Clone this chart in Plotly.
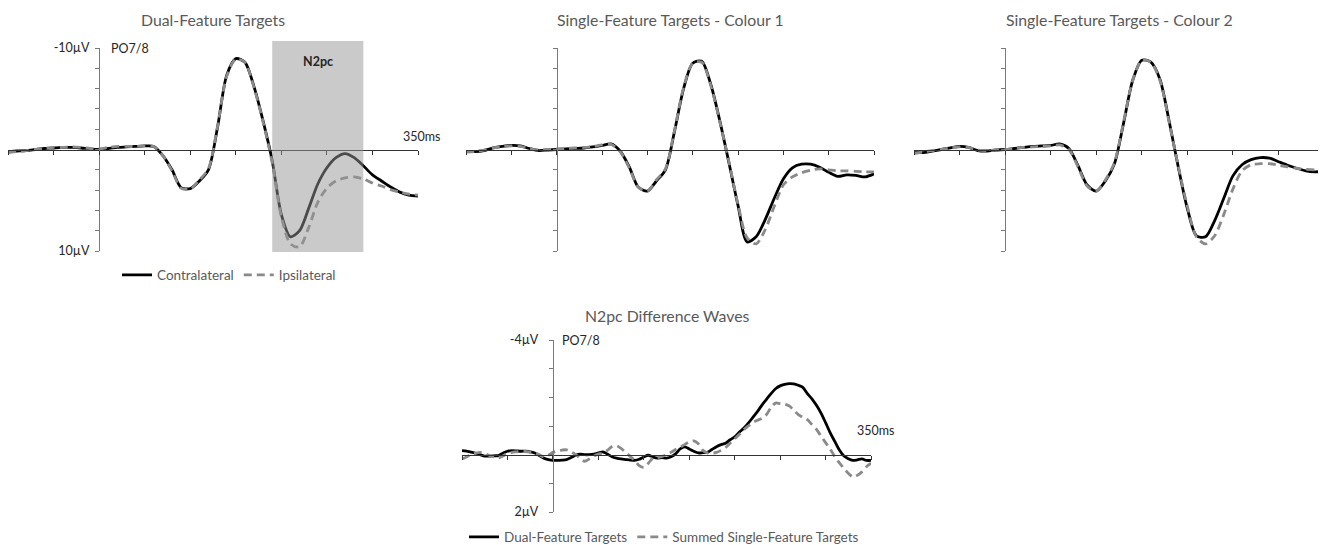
import plotly.graph_objects as go

# The page places the figure 8px from the top-left corner (default body margin),
# so the figure is sized to fill the rest of the 1326x545 window.
OFF = 8
W, H = 1326 - OFF, 545 - OFF

# ---------------- data ----------------
T10 = list(range(-100, 351, 10))   # ms, top panels
T5 = list(range(-100, 351, 5))     # ms, difference waves

dual_contra = [0.2, 0.15, 0.1, 0.0, -0.1, -0.15, -0.2, -0.2, -0.15, -0.05,
               0.0, -0.1, -0.2, -0.25, -0.3, -0.35, -0.3, 0.6, 2.0, 3.75,
               3.85, 3.1, 2.0, -2.2, -7.3, -8.95, -8.6, -6.2, -2.8, 1.1,
               6.4, 8.6, 8.0, 5.8, 3.4, 1.8, 0.8, 0.4, 0.8, 1.6,
               2.5, 3.1, 3.7, 4.2, 4.5, 4.6]
dual_ipsi = [0.3, 0.2, 0.1, 0.0, -0.1, -0.2, -0.2, -0.25, -0.2, -0.1,
             -0.05, -0.2, -0.3, -0.3, -0.3, -0.35, -0.3, 0.6, 2.1, 3.8,
             3.9, 3.0, 1.9, -2.3, -7.2, -8.9, -8.6, -6.1, -2.7, 1.3,
             6.6, 9.3, 9.6, 7.7, 5.2, 3.8, 3.1, 2.8, 2.7, 2.9,
             3.3, 3.6, 3.95, 4.2, 4.4, 4.5]

c1_contra = [0.2, 0.2, 0.1, -0.15, -0.3, -0.4, -0.35, -0.1, 0.1, 0.05,
             0.0, -0.05, -0.1, -0.15, -0.25, -0.4, -0.55, 0.15, 1.7, 3.7,
             4.1, 3.1, 2.0, -1.8, -6.0, -8.5, -8.7, -6.4, -2.8, 1.3,
             5.5, 9.1, 8.6, 6.9, 4.8, 2.9, 1.8, 1.45, 1.45, 1.75,
             2.25, 2.65, 2.5, 2.55, 2.7, 2.4]
c1_ipsi = [0.25, 0.2, 0.05, -0.15, -0.3, -0.35, -0.3, -0.1, 0.05, 0.0,
           -0.05, -0.1, -0.15, -0.2, -0.3, -0.45, -0.5, 0.2, 1.8, 3.7,
           4.1, 3.0, 1.9, -1.9, -6.1, -8.5, -8.6, -6.3, -2.7, 1.2,
           5.4, 8.7, 9.3, 7.9, 5.6, 3.5, 2.7, 2.3, 2.05, 1.9,
           2.0, 2.1, 2.1, 2.15, 2.2, 2.2]

c2_contra = [0.3, 0.3, 0.15, 0.0, -0.15, -0.3, -0.2, 0.1, 0.15, 0.05,
             0.0, -0.1, -0.2, -0.3, -0.35, -0.4, -0.55, -0.1, 1.6, 3.5,
             4.1, 3.1, 1.4, -2.6, -6.8, -8.8, -8.6, -6.9, -2.8, 1.7,
             5.8, 8.5, 8.6, 7.0, 4.8, 2.6, 1.5, 1.0, 0.8, 0.85,
             1.2, 1.55, 1.85, 2.1, 2.2, 2.15]
c2_ipsi = [0.4, 0.25, 0.1, 0.0, -0.15, -0.25, -0.2, 0.05, 0.1, 0.05,
           0.0, -0.1, -0.2, -0.25, -0.3, -0.35, -0.45, 0.0, 1.7, 3.6,
           4.1, 3.0, 1.3, -2.7, -6.8, -8.8, -8.6, -6.8, -2.7, 1.6,
           5.6, 8.6, 9.3, 8.5, 6.4, 3.9, 2.1, 1.5, 1.4, 1.4,
           1.55, 1.7, 1.85, 1.95, 2.0, 2.0]

diff_dual = [-0.14, -0.12, -0.09, -0.05, 0.0, 0.05, 0.05, 0.04, 0.03, -0.05,
             -0.12, -0.14, -0.13, -0.12, -0.12, -0.1, -0.06, 0.03, 0.12, 0.17,
             0.2, 0.2, 0.19, 0.17, 0.1, 0.02, -0.02, 0.0, 0.0, -0.02,
             -0.06, -0.1, -0.02, 0.07, 0.12, 0.15, 0.17, 0.19, 0.2, 0.16,
             0.08, 0.02, 0.08, 0.12, 0.1, 0.12, 0.07, -0.03, -0.2, -0.27,
             -0.2, -0.12, -0.06, -0.07, -0.08, -0.18, -0.28, -0.35, -0.4, -0.52,
             -0.62, -0.78, -0.92, -1.1, -1.3, -1.5, -1.73, -1.93, -2.13, -2.3,
             -2.4, -2.45, -2.48, -2.47, -2.42, -2.35, -2.13, -1.95, -1.72, -1.45,
             -1.12, -0.77, -0.47, -0.17, 0.04, 0.14, 0.2, 0.18, 0.15, 0.2,
             0.2]
diff_summed = [0.15, 0.08, 0.0, -0.05, -0.08, -0.04, 0.03, 0.08, 0.12, 0.05,
               -0.04, -0.08, -0.1, -0.12, -0.11, -0.09, -0.07, 0.0, 0.08, 0.02,
               -0.08, -0.13, -0.16, -0.17, -0.1, 0.0, 0.12, 0.23, 0.15, 0.05,
               -0.02, -0.06, -0.15, -0.28, -0.31, -0.22, -0.08, 0.06, 0.2, 0.38,
               0.44, 0.3, 0.12, 0.1, 0.06, 0.0, -0.08, -0.18, -0.27, -0.35,
               -0.45, -0.48, -0.38, -0.15, -0.06, -0.05, -0.08, -0.15, -0.25, -0.4,
               -0.55, -0.7, -0.87, -1.0, -1.12, -1.2, -1.27, -1.4, -1.65, -1.8,
               -1.78, -1.76, -1.7, -1.55, -1.4, -1.3, -1.22, -1.05, -0.88, -0.65,
               -0.42, -0.2, 0.06, 0.28, 0.47, 0.65, 0.78, 0.72, 0.6, 0.42,
               0.3]

TITLES = ["Dual-Feature Targets", "Single-Feature Targets - Colour 1",
          "Single-Feature Targets - Colour 2", "N2pc Difference Waves"]
TOP_YTICKS = [-10, -8, -6, -4, -2, 0, 2, 4, 6, 8, 10]
TOP_YTEXT = ["-10\u00b5V", "", "", "", "", "", "", "", "", "", "10\u00b5V"]
BOT_YTICKS = [-4, -3, -2, -1, 0, 1, 2]
BOT_YTEXT = ["-4\u00b5V", "", "", "", "", "", "2\u00b5V"]
XTICKS = [-100, -50, 0, 50, 100, 150, 200, 250, 300, 350]
N2PC_WINDOW = [190, 290]

# ---------------- style ----------------
FONT = "Lato, Carlito, Calibri, sans-serif"
TITLE_C = "#595959"
LABEL_C = "#262626"
BLACK = "#000000"
GRAY = "#8a8a8a"
DASH = "8px,5px"
LW = 2.8

# panel pixel boxes in window pixels: (left, right, top, bottom)
panels = [(8, 418, 48, 251), (466, 874, 48, 251), (914, 1324, 48, 251), (462, 871, 340, 512)]


def fx(px):
    return (px - OFF) / W


def fy(py):
    return 1 - (py - OFF) / H


fig = go.Figure()

series = [
    (T10, dual_contra, dual_ipsi, "Contralateral", "Ipsilateral", "legend"),
    (T10, c1_contra, c1_ipsi, None, None, None),
    (T10, c2_contra, c2_ipsi, None, None, None),
    (T5, diff_dual, diff_summed, "Dual-Feature Targets", "Summed Single-Feature Targets", "legend2"),
]

for i, (t, a, b, na, nb, lg) in enumerate(series):
    ax = "" if i == 0 else str(i + 1)
    common = dict(xaxis="x" + ax, yaxis="y" + ax, mode="lines", hoverinfo="skip")
    fig.add_trace(go.Scatter(x=t, y=a, name=na or "", showlegend=lg is not None,
                             legend=lg or "legend",
                             line=dict(color=BLACK, width=LW, shape="spline", smoothing=0.8),
                             **common))
    fig.add_trace(go.Scatter(x=t, y=b, name=nb or "", showlegend=lg is not None,
                             legend=lg or "legend",
                             line=dict(color=GRAY, width=LW, dash=DASH, shape="spline", smoothing=0.8),
                             **common))

layout = dict(
    width=W, height=H, template="none",
    margin=dict(l=0, r=0, t=0, b=0, autoexpand=False),
    paper_bgcolor="white", plot_bgcolor="rgba(0,0,0,0)",
    font=dict(family=FONT, size=12, color=LABEL_C),
    showlegend=True,
)

annotations = []
shapes = []
for i, (l, r, tp, bt) in enumerate(panels):
    ax = "" if i == 0 else str(i + 1)
    xd = [fx(l), fx(r)]
    yd = [fy(bt), fy(tp)]
    bottom = i == 3
    yr = [2, -4] if bottom else [10, -10]
    zero_frac = yd[0] + (yr[0] - 0) / (yr[0] - yr[1]) * (yd[1] - yd[0])
    xr = [-100, 350]
    yaxis_pos = xd[0] + (0 - xr[0]) / (xr[1] - xr[0]) * (xd[1] - xd[0])
    layout["xaxis" + ax] = dict(
        domain=xd, range=xr, anchor="free", position=zero_frac,
        showgrid=False, zeroline=False, showline=True, linecolor="#333333", linewidth=1,
        ticks="outside", ticklen=4, tickcolor="#333333", tickwidth=1,
        tickvals=XTICKS, showticklabels=False, fixedrange=True)
    if bottom:
        tv, tt = BOT_YTICKS, BOT_YTEXT
    elif i == 0:
        tv, tt = TOP_YTICKS, TOP_YTEXT
    else:
        tv, tt = TOP_YTICKS, [""] * len(TOP_YTICKS)
    layout["yaxis" + ax] = dict(
        domain=yd, range=yr, anchor="free", position=yaxis_pos,
        showgrid=False, zeroline=False, showline=True, linecolor="#7a7a7a", linewidth=1.3,
        ticks="outside", ticklen=4, tickcolor="#7a7a7a", tickwidth=1.3,
        tickvals=tv, ticktext=tt, tickfont=dict(size=12.5, color=LABEL_C, family=FONT),
        ticklabelstandoff=(8 if bottom else 3), fixedrange=True)
    # panel title
    annotations.append(dict(text=TITLES[i], xref="paper", yref="paper",
                            x=(xd[0] + xd[1]) / 2, y=fy(315 if bottom else 20),
                            xanchor="center", yanchor="middle", showarrow=False,
                            font=dict(size=15.8, color=TITLE_C, family=FONT)))

# electrode labels
annotations.append(dict(text="PO7/8", xref="x", yref="y", x=0, y=-10, xshift=10,
                        xanchor="left", yanchor="middle", showarrow=False,
                        font=dict(size=12.5, color=LABEL_C)))
annotations.append(dict(text="PO7/8", xref="x4", yref="y4", x=0, y=-4, xshift=7,
                        xanchor="left", yanchor="middle", showarrow=False,
                        font=dict(size=12.5, color=LABEL_C)))
# time labels (placed at the axis end, nudged right)
annotations.append(dict(text="350ms", xref="x", yref="y", x=350, y=-1.25, xshift=3,
                        xanchor="center", yanchor="middle", showarrow=False,
                        font=dict(size=12.5, color=LABEL_C)))
annotations.append(dict(text="350ms", xref="x4", yref="y4", x=350, y=-0.85, xshift=4,
                        xanchor="center", yanchor="middle", showarrow=False,
                        font=dict(size=12.5, color=LABEL_C)))
# N2pc window
annotations.append(dict(text="<b>N2pc</b>", xref="x", yref="y",
                        x=sum(N2PC_WINDOW) / 2, y=-8.7,
                        xanchor="center", yanchor="middle", showarrow=False,
                        font=dict(size=12.5, color=LABEL_C)))
shapes.append(dict(type="rect", xref="x", yref="paper",
                   x0=N2PC_WINDOW[0], x1=N2PC_WINDOW[1], y0=fy(252), y1=fy(41),
                   fillcolor="rgba(150,150,150,0.5)", line=dict(width=0), layer="above"))

layout["annotations"] = annotations
layout["shapes"] = shapes
layout["legend"] = dict(orientation="h", x=fx(229), y=fy(275), xanchor="center", yanchor="middle",
                        bgcolor="rgba(0,0,0,0)", borderwidth=0,
                        font=dict(size=13.5, color=TITLE_C, family=FONT), itemwidth=30)
layout["legend2"] = dict(orientation="h", x=fx(664), y=fy(537), xanchor="center", yanchor="middle",
                         bgcolor="rgba(0,0,0,0)", borderwidth=0,
                         font=dict(size=13.5, color=TITLE_C, family=FONT), itemwidth=30)

fig.update_layout(**layout)
fig.write_html("out.html")
